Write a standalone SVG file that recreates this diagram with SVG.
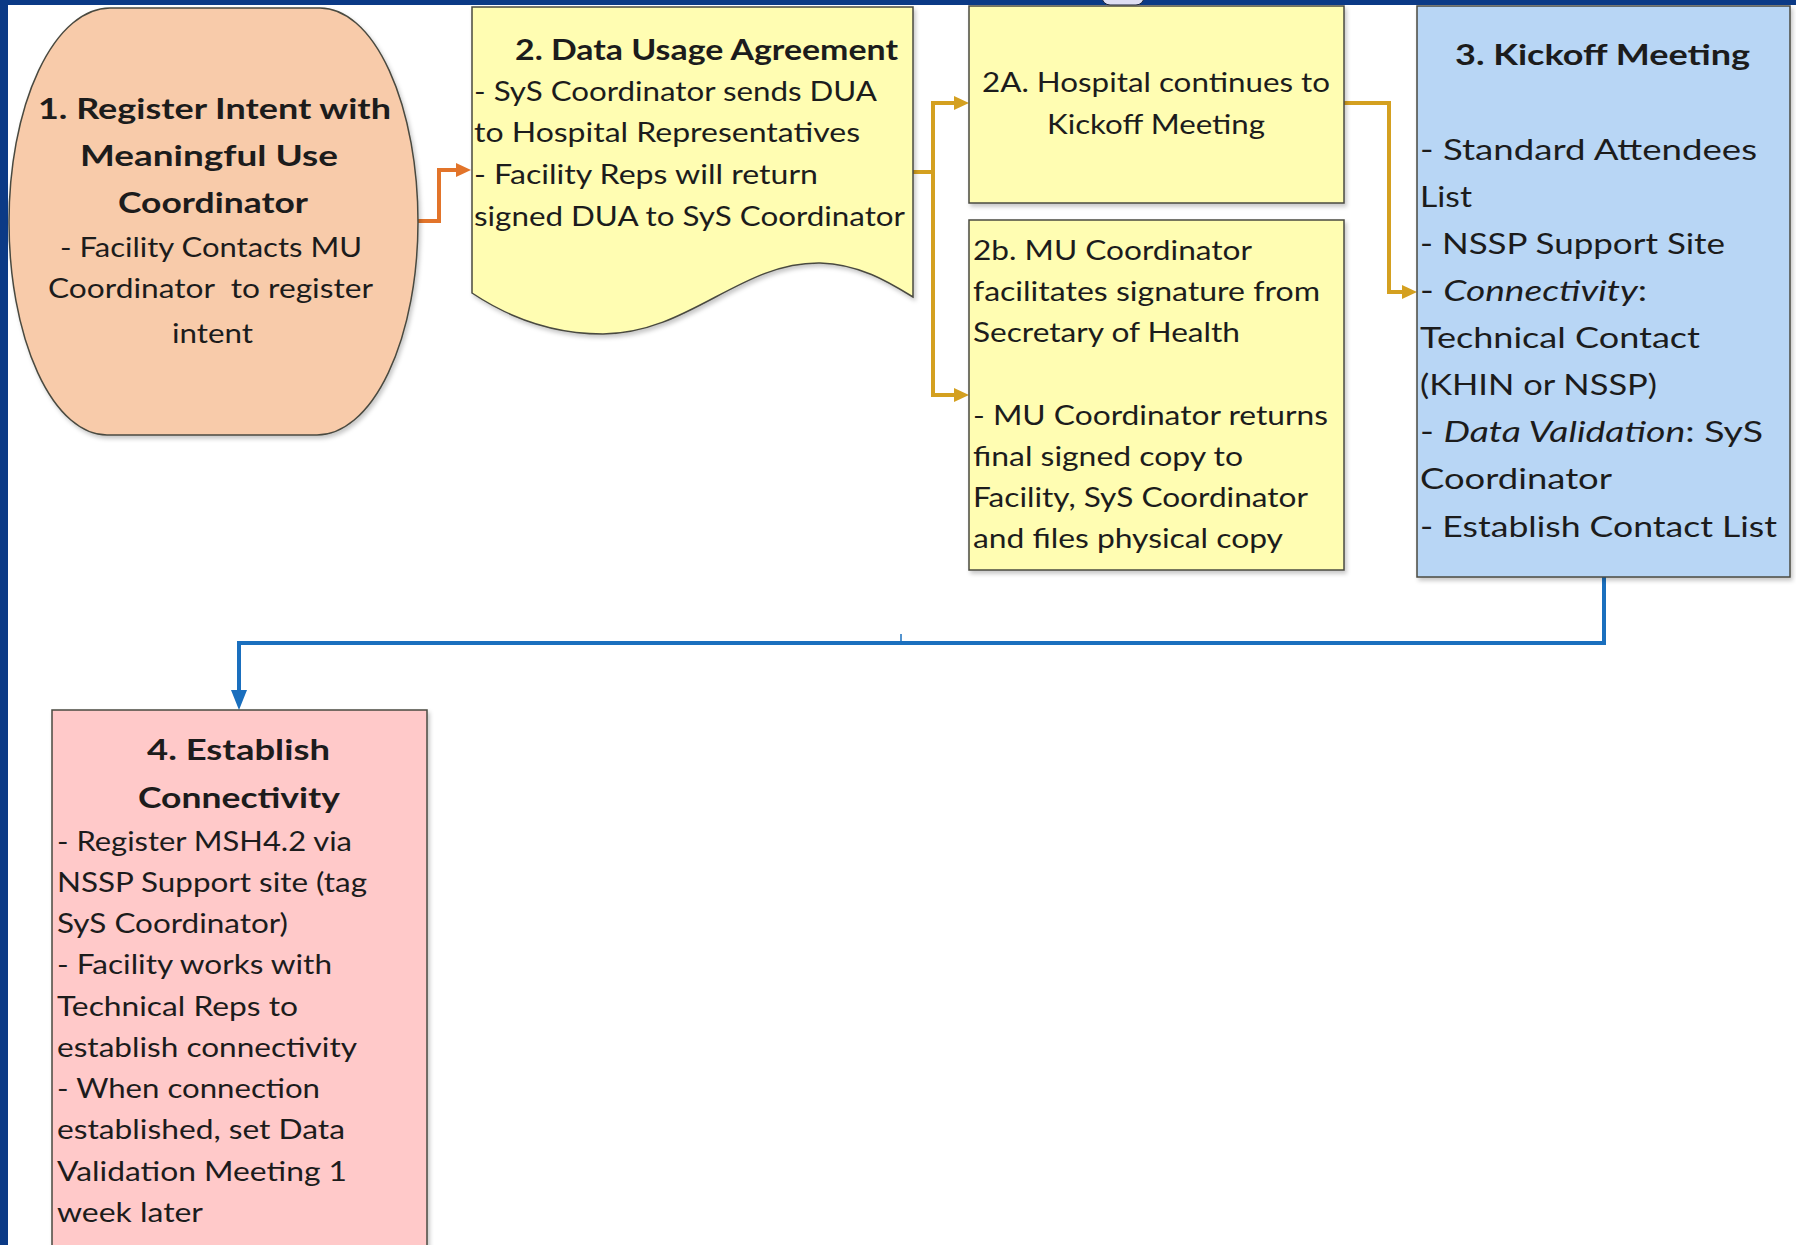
<svg xmlns="http://www.w3.org/2000/svg" width="1796" height="1245" viewBox="0 0 1796 1245">
  <style>
    .t { font-family: Lato, "Liberation Sans", sans-serif; fill: #1c1c1c; }
    .b { font-size: 26px; }
    .b3 { font-size: 29px; }
    .h { font-size: 28px; font-weight: bold; }
    .it { font-style: italic; }
    .box { stroke: #4a4a40; stroke-width: 1.5; }
    .yel { fill: #FFFDB2; }
    .conn { fill: none; stroke-width: 4; stroke-linejoin: miter; }
  </style>
  <defs>
    <filter id="shadow" x="-5%" y="-5%" width="115%" height="115%">
      <feDropShadow dx="2" dy="3" stdDeviation="2" flood-color="#000" flood-opacity="0.22"/>
    </filter>
    <marker id="arrOrange" markerUnits="userSpaceOnUse" viewBox="0 0 15 14" refX="5" refY="7" markerWidth="15" markerHeight="14" orient="auto">
      <path d="M0,0 L15,7 L0,14 Z" fill="#E2742A"/>
    </marker>
    <marker id="arrGold" markerUnits="userSpaceOnUse" viewBox="0 0 15 14" refX="5" refY="7" markerWidth="15" markerHeight="14" orient="auto">
      <path d="M0,0 L15,7 L0,14 Z" fill="#D4A020"/>
    </marker>
    <marker id="arrBlue" markerUnits="userSpaceOnUse" viewBox="0 0 20 16" refX="6" refY="8" markerWidth="20" markerHeight="16" orient="auto">
      <path d="M0,0 L20,8 L0,16 Z" fill="#1A6FBE"/>
    </marker>
  </defs>

  <!-- page background and frame -->
  <rect x="0" y="0" width="1796" height="1245" fill="#FFFFFF"/>
  <rect x="0" y="0" width="1796" height="5" fill="#0B3A86"/>
  <rect x="0" y="0" width="8" height="1245" fill="#0B3A86"/>
  <rect x="1102" y="-12" width="42" height="17" rx="8" fill="#DEDEF3" stroke="#1A2238" stroke-width="1"/>

  <!-- connectors -->
  <g id="connectors">
    <path class="conn" stroke="#E2742A" d="M418,221 H439 V170 H461" marker-end="url(#arrOrange)"/>
    <path class="conn" stroke="#D4A020" d="M913,172 H933"/>
    <path class="conn" stroke="#D4A020" d="M933,103 V395"/>
    <path class="conn" stroke="#D4A020" d="M931,103 H959" marker-end="url(#arrGold)"/>
    <path class="conn" stroke="#D4A020" d="M931,395 H959" marker-end="url(#arrGold)"/>
    <path class="conn" stroke="#D4A020" d="M1344,103 H1389 V292 H1407" marker-end="url(#arrGold)"/>
    <path class="conn" stroke="#1A6FBE" stroke-width="4.5" d="M1604,577 V643 H239 V696" marker-end="url(#arrBlue)"/>
    <line x1="901" y1="634" x2="901" y2="641" stroke="#1A6FBE" stroke-width="1.5"/>
  </g>

  <!-- 1. Register intent (rounded barrel) -->
  <g id="node-register-intent">
    <path class="box" fill="#F8CBAA" filter="url(#shadow)"
          d="M110,8 H320 A98,214 0 0 1 418,222 A101,213 0 0 1 317,435 H107 A98,213 0 0 1 9,222 A101,214 0 0 1 110,8 Z"/>
    <text class="t h" x="38" y="119" textLength="353" lengthAdjust="spacingAndGlyphs">1. Register Intent with</text>
    <text class="t h" x="80" y="166" textLength="258" lengthAdjust="spacingAndGlyphs">Meaningful Use</text>
    <text class="t h" x="118" y="213" textLength="190" lengthAdjust="spacingAndGlyphs">Coordinator</text>
    <text class="t b" x="60" y="257" textLength="302" lengthAdjust="spacingAndGlyphs">- Facility Contacts MU</text>
    <text class="t b" x="48" y="298" textLength="325" lengthAdjust="spacingAndGlyphs" xml:space="preserve">Coordinator  to register</text>
    <text class="t b" x="172" y="343" textLength="81" lengthAdjust="spacingAndGlyphs">intent</text>
  </g>

  <!-- 2. Data usage agreement (document shape) -->
  <g id="node-dua">
    <path class="box yel" filter="url(#shadow)"
          d="M472,7 H913 V297 C890,283 860,264 820,263 C740,262 690,333 603,334 C550,334 505,315 472,293 Z"/>
    <text class="t h" x="515" y="60" textLength="383" lengthAdjust="spacingAndGlyphs">2. Data Usage Agreement</text>
    <text class="t b" x="474" y="101" textLength="403" lengthAdjust="spacingAndGlyphs">- SyS Coordinator sends DUA</text>
    <text class="t b" x="474" y="142" textLength="386" lengthAdjust="spacingAndGlyphs">to Hospital Representatives</text>
    <text class="t b" x="474" y="184" textLength="344" lengthAdjust="spacingAndGlyphs">- Facility Reps will return</text>
    <text class="t b" x="474" y="226" textLength="431" lengthAdjust="spacingAndGlyphs">signed DUA to SyS Coordinator</text>
  </g>

  <!-- 2A. Continue to kickoff -->
  <g id="node-2a">
    <rect class="box yel" x="969" y="6" width="375" height="197" filter="url(#shadow)"/>
    <text class="t b" x="982" y="92" textLength="348" lengthAdjust="spacingAndGlyphs">2A. Hospital continues to</text>
    <text class="t b" x="1047" y="134" textLength="218" lengthAdjust="spacingAndGlyphs">Kickoff Meeting</text>
  </g>

  <!-- 2b. Secretary of Health signature -->
  <g id="node-2b">
    <rect class="box yel" x="969" y="220" width="375" height="350" filter="url(#shadow)"/>
    <text class="t b" x="973" y="260" textLength="279" lengthAdjust="spacingAndGlyphs">2b. MU Coordinator</text>
    <text class="t b" x="973" y="301" textLength="347" lengthAdjust="spacingAndGlyphs">facilitates signature from</text>
    <text class="t b" x="973" y="342" textLength="267" lengthAdjust="spacingAndGlyphs">Secretary of Health</text>
    <text class="t b" x="973" y="425" textLength="355" lengthAdjust="spacingAndGlyphs">- MU Coordinator returns</text>
    <text class="t b" x="973" y="466" textLength="270" lengthAdjust="spacingAndGlyphs">final signed copy to</text>
    <text class="t b" x="973" y="507" textLength="335" lengthAdjust="spacingAndGlyphs">Facility, SyS Coordinator</text>
    <text class="t b" x="973" y="548" textLength="310" lengthAdjust="spacingAndGlyphs">and files physical copy</text>
  </g>

  <!-- 3. Kickoff meeting -->
  <g id="node-kickoff">
    <rect class="box" fill="#B8D6F5" x="1417" y="6" width="373" height="571" filter="url(#shadow)"/>
    <text class="t h" x="1455" y="65" textLength="295" lengthAdjust="spacingAndGlyphs">3. Kickoff Meeting</text>
    <text class="t b3" x="1420" y="160" textLength="337" lengthAdjust="spacingAndGlyphs">- Standard Attendees</text>
    <text class="t b3" x="1420" y="207" textLength="52" lengthAdjust="spacingAndGlyphs">List</text>
    <text class="t b3" x="1420" y="254" textLength="305" lengthAdjust="spacingAndGlyphs">- NSSP Support Site</text>
    <text class="t b3" x="1420" y="301" textLength="227" lengthAdjust="spacingAndGlyphs">- <tspan class="it">Connectivity</tspan>:</text>
    <text class="t b3" x="1420" y="348" textLength="280" lengthAdjust="spacingAndGlyphs">Technical Contact</text>
    <text class="t b3" x="1420" y="395" textLength="237" lengthAdjust="spacingAndGlyphs">(KHIN or NSSP)</text>
    <text class="t b3" x="1420" y="442" textLength="343" lengthAdjust="spacingAndGlyphs">- <tspan class="it">Data Validation</tspan>: SyS</text>
    <text class="t b3" x="1420" y="489" textLength="192" lengthAdjust="spacingAndGlyphs">Coordinator</text>
    <text class="t b3" x="1420" y="537" textLength="357" lengthAdjust="spacingAndGlyphs">- Establish Contact List</text>
  </g>

  <!-- 4. Establish connectivity -->
  <g id="node-connectivity">
    <rect class="box" fill="#FFC9C9" x="52" y="710" width="375" height="545" filter="url(#shadow)"/>
    <text class="t h" x="147" y="760" textLength="183" lengthAdjust="spacingAndGlyphs">4. Establish</text>
    <text class="t h" x="138" y="808" textLength="202" lengthAdjust="spacingAndGlyphs">Connectivity</text>
    <text class="t b" x="57" y="851" textLength="295" lengthAdjust="spacingAndGlyphs">- Register MSH4.2 via</text>
    <text class="t b" x="57" y="892" textLength="310" lengthAdjust="spacingAndGlyphs">NSSP Support site (tag</text>
    <text class="t b" x="57" y="933" textLength="231" lengthAdjust="spacingAndGlyphs">SyS Coordinator)</text>
    <text class="t b" x="57" y="974" textLength="275" lengthAdjust="spacingAndGlyphs">- Facility works with</text>
    <text class="t b" x="57" y="1016" textLength="241" lengthAdjust="spacingAndGlyphs">Technical Reps to</text>
    <text class="t b" x="57" y="1057" textLength="300" lengthAdjust="spacingAndGlyphs">establish connectivity</text>
    <text class="t b" x="57" y="1098" textLength="263" lengthAdjust="spacingAndGlyphs">- When connection</text>
    <text class="t b" x="57" y="1139" textLength="288" lengthAdjust="spacingAndGlyphs">established, set Data</text>
    <text class="t b" x="57" y="1181" textLength="290" lengthAdjust="spacingAndGlyphs">Validation Meeting 1</text>
    <text class="t b" x="57" y="1222" textLength="146" lengthAdjust="spacingAndGlyphs">week later</text>
  </g>
</svg>
